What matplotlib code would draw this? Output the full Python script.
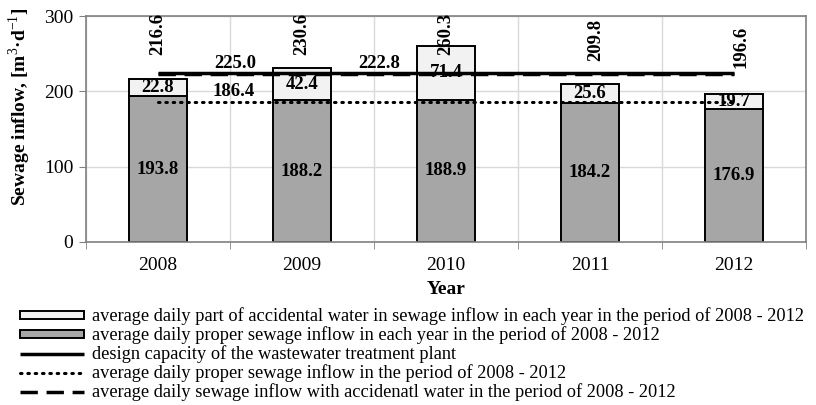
import matplotlib
matplotlib.use("Agg")
import matplotlib.pyplot as plt
import numpy as np

years = ["2008", "2009", "2010", "2011", "2012"]
proper = [193.8, 188.2, 188.9, 184.2, 176.9]
accidental = [22.8, 42.4, 71.4, 25.6, 19.7]
totals = [216.6, 230.6, 260.3, 209.8, 196.6]
design_capacity = 225.0
avg_with_accidental = 222.8
avg_proper = 186.4

legend_labels = [
    "average daily part of accidental water in sewage inflow in each year in the period of 2008 - 2012",
    "average daily proper sewage inflow in each year in the period of 2008 - 2012",
    "design capacity of the wastewater treatment plant",
    "average daily proper sewage inflow in the period of 2008 - 2012",
    "average daily sewage inflow with accidenatl water in the period of 2008 - 2012",
]

plt.rcParams['font.family'] = ['Liberation Serif', 'DejaVu Serif']
plt.rcParams['mathtext.fontset'] = 'custom'
plt.rcParams['mathtext.rm'] = 'Liberation Serif'
plt.rcParams['mathtext.bf'] = 'Liberation Serif:bold'

fig = plt.figure(figsize=(8.16, 4.05), dpi=100)
ax = fig.add_axes([0.105, 0.4025, 0.883, 0.5575])

x = np.arange(len(years))
w = 0.4
b1 = ax.bar(x, proper, width=w, color='#a6a6a6', edgecolor='black', linewidth=1.4, zorder=2)
b2 = ax.bar(x, accidental, width=w, bottom=proper, color='#f2f2f2', edgecolor='black', linewidth=1.4, zorder=2)

xs = [x[0], x[-1]]
l1, = ax.plot(xs, [design_capacity]*2, color='black', lw=2.5, zorder=4, solid_capstyle='butt')
l2, = ax.plot(xs, [avg_with_accidental]*2, color='black', lw=2.5, dashes=(5, 2.5), zorder=4)
l3, = ax.plot(xs, [avg_proper]*2, color='black', lw=2.2, linestyle=(0, (0.5, 1.9)), dash_capstyle='round', zorder=4)

fs = 13.5
for i in range(len(years)):
    ax.text(x[i], proper[i] / 2, f"{proper[i]:.1f}", ha='center', va='center', fontsize=fs, fontweight='bold', zorder=5)
    ax.text(x[i], proper[i] + accidental[i] / 2, f"{accidental[i]:.1f}", ha='center', va='center', fontsize=fs, fontweight='bold', zorder=5)
tot_y = [277, 277, 277, 268, 259]
tot_dx = [0, 0, 0, 0.04, 0.05]
for i in range(len(years)):
    ax.text(x[i] + tot_dx[i], tot_y[i], f"{totals[i]:.1f}", ha='center', va='center', rotation=90, fontsize=fs, fontweight='bold', zorder=5)

ax.text(0.54, 225.5, f"{design_capacity:.1f}", ha='center', va='bottom', fontsize=fs, fontweight='bold', zorder=5)
ax.text(1.54, 225.5, f"{avg_with_accidental:.1f}", ha='center', va='bottom', fontsize=fs, fontweight='bold', zorder=5)
ax.text(0.53, 188, f"{avg_proper:.1f}", ha='center', va='bottom', fontsize=fs, fontweight='bold', zorder=5)

ax.set_xlim(-0.5, 4.5)
ax.set_ylim(0, 300)
ax.set_yticks([0, 100, 200, 300])
ax.set_xticks(x)
ax.set_xticklabels(years, fontsize=14)
ax.set_xticks(np.arange(-0.5, 5, 1), minor=True)
ax.tick_params(axis='x', which='major', length=0, pad=11)
ax.tick_params(axis='x', which='minor', length=5, direction='out', color='#808080')
ax.tick_params(axis='y', length=5, direction='out', color='#808080', labelsize=14, pad=4)
ax.grid(True, axis='y', color='#d9d9d9', lw=1, zorder=0)
ax.grid(True, axis='x', which='minor', color='#d9d9d9', lw=1, zorder=0)
for s in ax.spines.values():
    s.set_color('#808080')
    s.set_linewidth(1.2)
ax.set_xlabel("Year", fontsize=14, fontweight='bold', va='center')
ax.xaxis.set_label_coords(0.5, -0.212)
ax.set_ylabel(r"Sewage inflow, [m$^{3}$·d$^{-1}$]", fontsize=14, fontweight='bold', va='center')
ax.yaxis.set_label_coords(-0.092, 0.60)

handles = [b2, b1, l1, l3, l2]
leg = fig.legend(handles, legend_labels, loc='upper left', bbox_to_anchor=(0.0245, 0.241),
                 frameon=False, fontsize=13.2, handlelength=3.5, handleheight=0.3,
                 handletextpad=0.45, labelspacing=0.06, borderaxespad=0, borderpad=0)

fig.savefig("out.png", dpi=100)
